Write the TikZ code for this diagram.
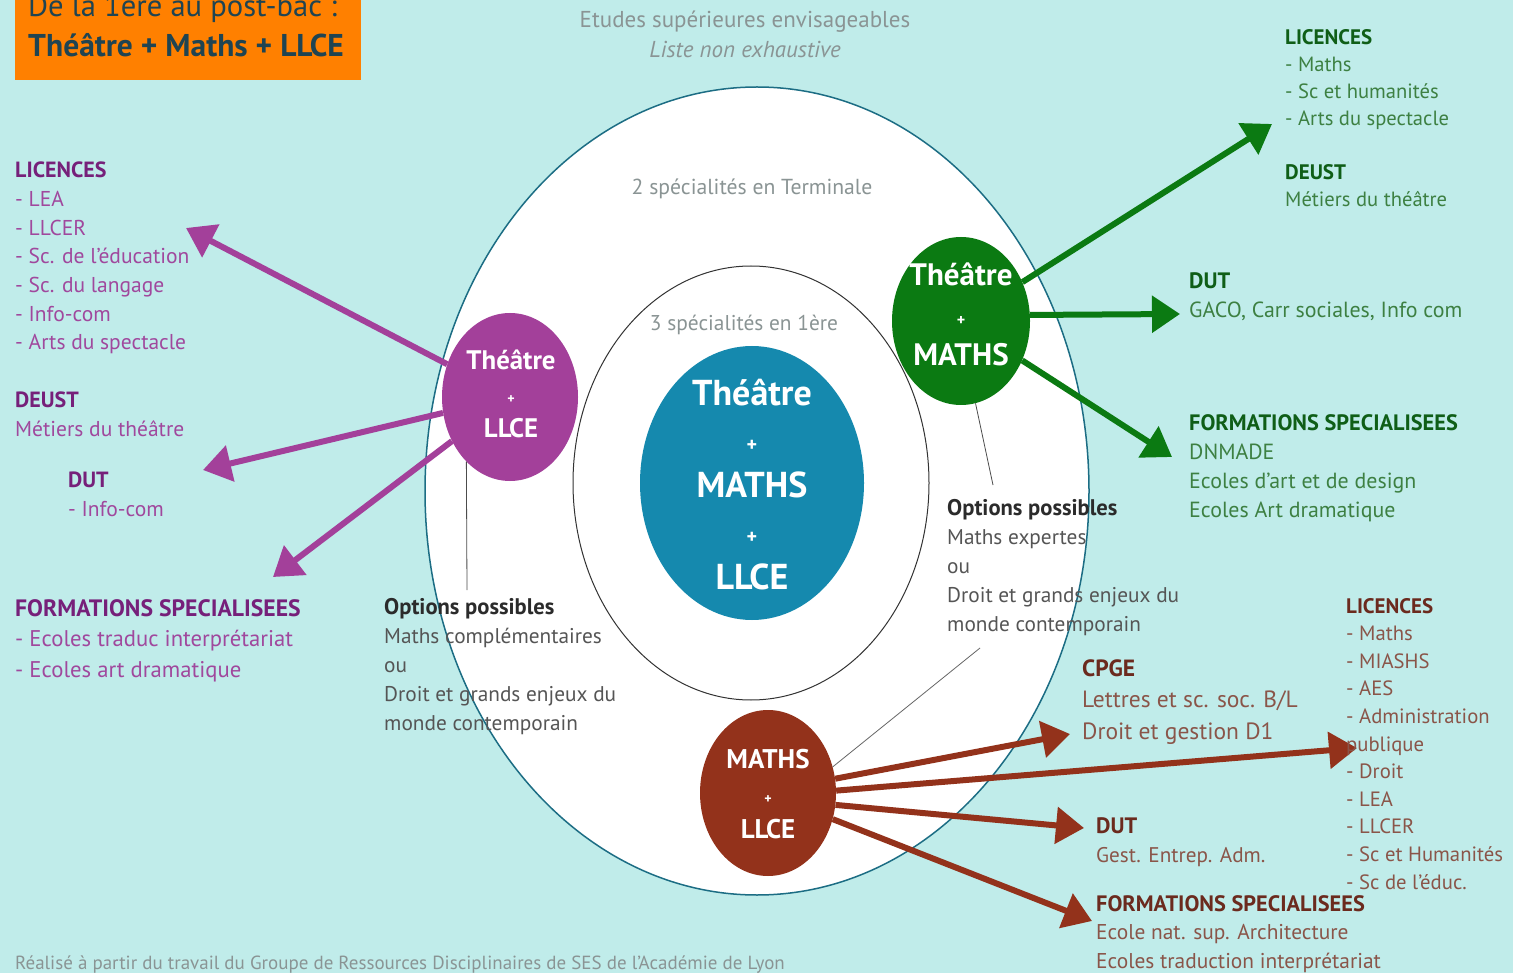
\documentclass[tikz,border=0pt]{standalone}
\usepackage{fontspec}
\setmainfont{PT Sans}
\usetikzlibrary{shapes.geometric,arrows.meta}
\definecolor{bg}{HTML}{C0ECEA}
\definecolor{orangebox}{HTML}{FF8000}
\definecolor{titletxt}{HTML}{1F4452}
\definecolor{greytxt}{HTML}{8A9494}
\definecolor{bluec}{HTML}{1589AE}
\definecolor{purc}{HTML}{A3409A}
\definecolor{purh}{HTML}{76207A}
\definecolor{puri}{HTML}{A0489D}
\definecolor{grnc}{HTML}{0B7A12}
\definecolor{grnh}{HTML}{0F5E17}
\definecolor{grni}{HTML}{3D8042}
\definecolor{redc}{HTML}{93321B}
\definecolor{redh}{HTML}{6B2A1E}
\definecolor{redi}{HTML}{8A5549}
\definecolor{opth}{HTML}{2B2B2B}
\definecolor{opti}{HTML}{555555}
\definecolor{ringc}{HTML}{1C6D84}
\newcommand{\hd}[3]{{\fontsize{#1}{#1}\selectfont\bfseries\color{#2}#3}}
\begin{document}
\begin{tikzpicture}[x=1pt,y=-1pt,
  blk/.style={anchor=base west, inner sep=0pt, align=left, font=\fontsize{21.5}{28.7}\selectfont},
  spec/.style={ellipse, inner sep=0pt},
  ctxt/.style={inner sep=0pt, align=center, text=white, font=\bfseries\fontsize{26}{35}\selectfont},
  parr/.style={line width=6pt, purc, -{Triangle[length=28pt,width=36pt]}},
  garr/.style={line width=6pt, grnc, -{Triangle[length=28pt,width=36pt]}},
  rarr/.style={line width=6pt, redc, -{Triangle[length=28pt,width=36pt]}},
  lead/.style={line width=0.8pt, black!70}
]
\useasboundingbox (0,0) rectangle (1513,973);
\fill[bg] (0,0) rectangle (1513,973);

% title
\node[fill=orangebox, inner sep=0pt, minimum width=346pt, minimum height=100pt, anchor=south west] (title) at (15,80) {};
\node[anchor=base west, inner sep=0pt, text=titletxt, font=\fontsize{30.6}{30}\selectfont] (t1) at (28,17) {De la 1ère au post-bac :};
\node[anchor=base west, inner sep=0pt, text=titletxt, font=\bfseries\fontsize{31.5}{33}\selectfont] (t2) at (28,57) {Théâtre + Maths + LLCE};

\node[inner sep=0pt, align=center, text=greytxt, font=\fontsize{23}{30}\selectfont, anchor=base] (top) at (745,58) {Etudes supérieures envisageables\\\itshape Liste non exhaustive};

% ellipses
\node[spec, draw=ringc, line width=1.5pt, fill=white, minimum width=664pt, minimum height=808pt] (outer) at (757,491) {};
\node[spec, draw=black!80, line width=1pt, minimum width=356pt, minimum height=434pt] (inner) at (751,483) {};
\node[inner sep=0pt, text=greytxt, font=\fontsize{21.7}{20}\selectfont, anchor=base] (l2) at (752,195) {2 spécialités en Terminale};
\node[inner sep=0pt, text=greytxt, font=\fontsize{21.4}{20}\selectfont, anchor=base] (l3) at (744,331) {3 spécialités en 1ère};

% circles
\node[spec, fill=bluec, minimum width=224pt, minimum height=274pt] (blue) at (752,483) {};
\node[spec, fill=purc, minimum width=136pt, minimum height=168pt] (pur) at (510,397) {};
\node[spec, fill=grnc, minimum width=138pt, minimum height=168pt] (grn) at (961,321) {};
\node[spec, fill=redc, minimum width=136pt, minimum height=166pt] (red) at (768,793) {};

\node[ctxt, font=\bfseries\fontsize{36}{46}\selectfont] (bluet) at (752,485) {Théâtre\\{\fontsize{20}{46}\selectfont+}\\MATHS\\{\fontsize{20}{46}\selectfont+}\\LLCE};
\node[ctxt, font=\bfseries\fontsize{26.8}{34}\selectfont] (purt) at (511,394) {Théâtre\\{\fontsize{14}{34}\selectfont+}\\LLCE};
\node[ctxt, font=\bfseries\fontsize{31}{40}\selectfont] (grnt) at (961,314) {Théâtre\\{\fontsize{16}{40}\selectfont+}\\MATHS};
\node[ctxt, font=\bfseries\fontsize{27}{35}\selectfont] (redt) at (768,794) {MATHS\\{\fontsize{14}{35}\selectfont+}\\LLCE};

% leader lines
\coordinate (pl) at (467,590);
\coordinate (gl) at (993,485);
\coordinate (rl) at (980,648);
\draw[lead] (pur.236) -- (pl);
\draw[lead] (grn.280) -- (gl);
\draw[lead, black!60] (red.22) -- (rl);

% arrows
\coordinate (pa1) at (186,228);
\coordinate (pa2) at (203,470);
\coordinate (pa3) at (273,577);
\draw[parr] (pur) -- (pa1);
\draw[parr] (pur) -- (pa2);
\draw[parr] (pur) -- (pa3);

\coordinate (ga1) at (1272,124);
\coordinate (ga2) at (1180,314);
\coordinate (ga3) at (1172,457);
\draw[garr] (grn) -- (ga1);
\draw[garr] (grn.5) -- (ga2);
\draw[garr] (grn) -- (ga3);

\coordinate (ra1) at (1070,734);
\coordinate (ra2) at (1357,748);
\coordinate (ra3) at (1084,828);
\coordinate (ra4) at (1092,921);
\draw[rarr] (red.12) -- (ra1);
\draw[rarr] (red.2) -- (ra2);
\draw[rarr] (red.-10) -- (ra3);
\draw[rarr] (red.-22) -- (ra4);

% left purple texts
\node[blk, text=puri] (pl1) at (15,350) {\hd{22}{purh}{LICENCES}\\- LEA\\- LLCER\\- Sc. de l'éducation\\- Sc. du langage\\- Info-com\\- Arts du spectacle};
\node[blk, text=puri] (pl2) at (15,436) {\hd{22}{purh}{DEUST}\\Métiers du théâtre};
\node[blk, text=puri] (pl3) at (68,516) {\hd{22}{purh}{DUT}\\- Info-com};
\node[blk, text=puri, font=\fontsize{22.7}{30.5}\selectfont] (pl4) at (15,677) {\hd{23.7}{purh}{FORMATIONS SPECIALISEES}\\- Ecoles traduc interprétariat\\- Ecoles art dramatique};

% right green texts
\node[blk, text=grni, font=\fontsize{20.6}{27}\selectfont] (gr1) at (1285,126) {\hd{21}{grnh}{LICENCES}\\- Maths\\- Sc et humanités\\- Arts du spectacle};
\node[blk, text=grni, font=\fontsize{20.6}{27}\selectfont] (gr2) at (1285,207) {\hd{21}{grnh}{DEUST}\\Métiers du théâtre};
\node[blk, text=grni, font=\fontsize{21.9}{29}\selectfont] (gr3) at (1189,318) {\hd{22.3}{grnh}{DUT}\\GACO, Carr sociales, Info com};
\node[blk, text=grni, font=\fontsize{21.9}{29}\selectfont] (gr4) at (1189,517) {\hd{22.3}{grnh}{FORMATIONS SPECIALISEES}\\DNMADE\\Ecoles d'art et de design\\Ecoles Art dramatique};

% options
\node[blk, text=opti, font=\fontsize{21.3}{28.8}\selectfont] (op1) at (384,730) {\hd{22.6}{opth}{Options possibles}\\Maths complémentaires\\ou\\Droit et grands enjeux du\\monde contemporain};
\node[blk, text=opti, font=\fontsize{21.3}{28.8}\selectfont] (op2) at (947,631) {\hd{22.6}{opth}{Options possibles}\\Maths expertes\\ou\\Droit et grands enjeux du\\monde contemporain};

% red texts
\node[blk, text=redi, font=\fontsize{23.5}{31.5}\selectfont] (rd1) at (1082,739) {\hd{23.5}{redh}{CPGE}\\Lettres et sc. soc. B/L\\Droit et gestion D1};
\node[blk, text=redi, font=\fontsize{20.7}{27.6}\selectfont] (rd2) at (1346,889) {\hd{21}{redh}{LICENCES}\\- Maths\\- MIASHS\\- AES\\- Administration\\publique\\- Droit\\- LEA\\- LLCER\\- Sc et Humanités\\- Sc de l'éduc.};
\node[blk, text=redi, font=\fontsize{21.2}{29}\selectfont] (rd3) at (1096,862) {\hd{22.3}{redh}{DUT}\\Gest. Entrep. Adm.};
\node[blk, text=redi, font=\fontsize{21.4}{28.5}\selectfont] (rd4) at (1096,968) {\hd{22.3}{redh}{FORMATIONS SPECIALISEES}\\Ecole nat. sup. Architecture\\Ecoles traduction interprétariat};

% footer
\node[anchor=base west, inner sep=0pt, text=greytxt, font=\fontsize{19}{16}\selectfont] (foot) at (15,969) {Réalisé à partir du travail du Groupe de Ressources Disciplinaires de SES de l'Académie de Lyon};
\end{tikzpicture}
\end{document}
